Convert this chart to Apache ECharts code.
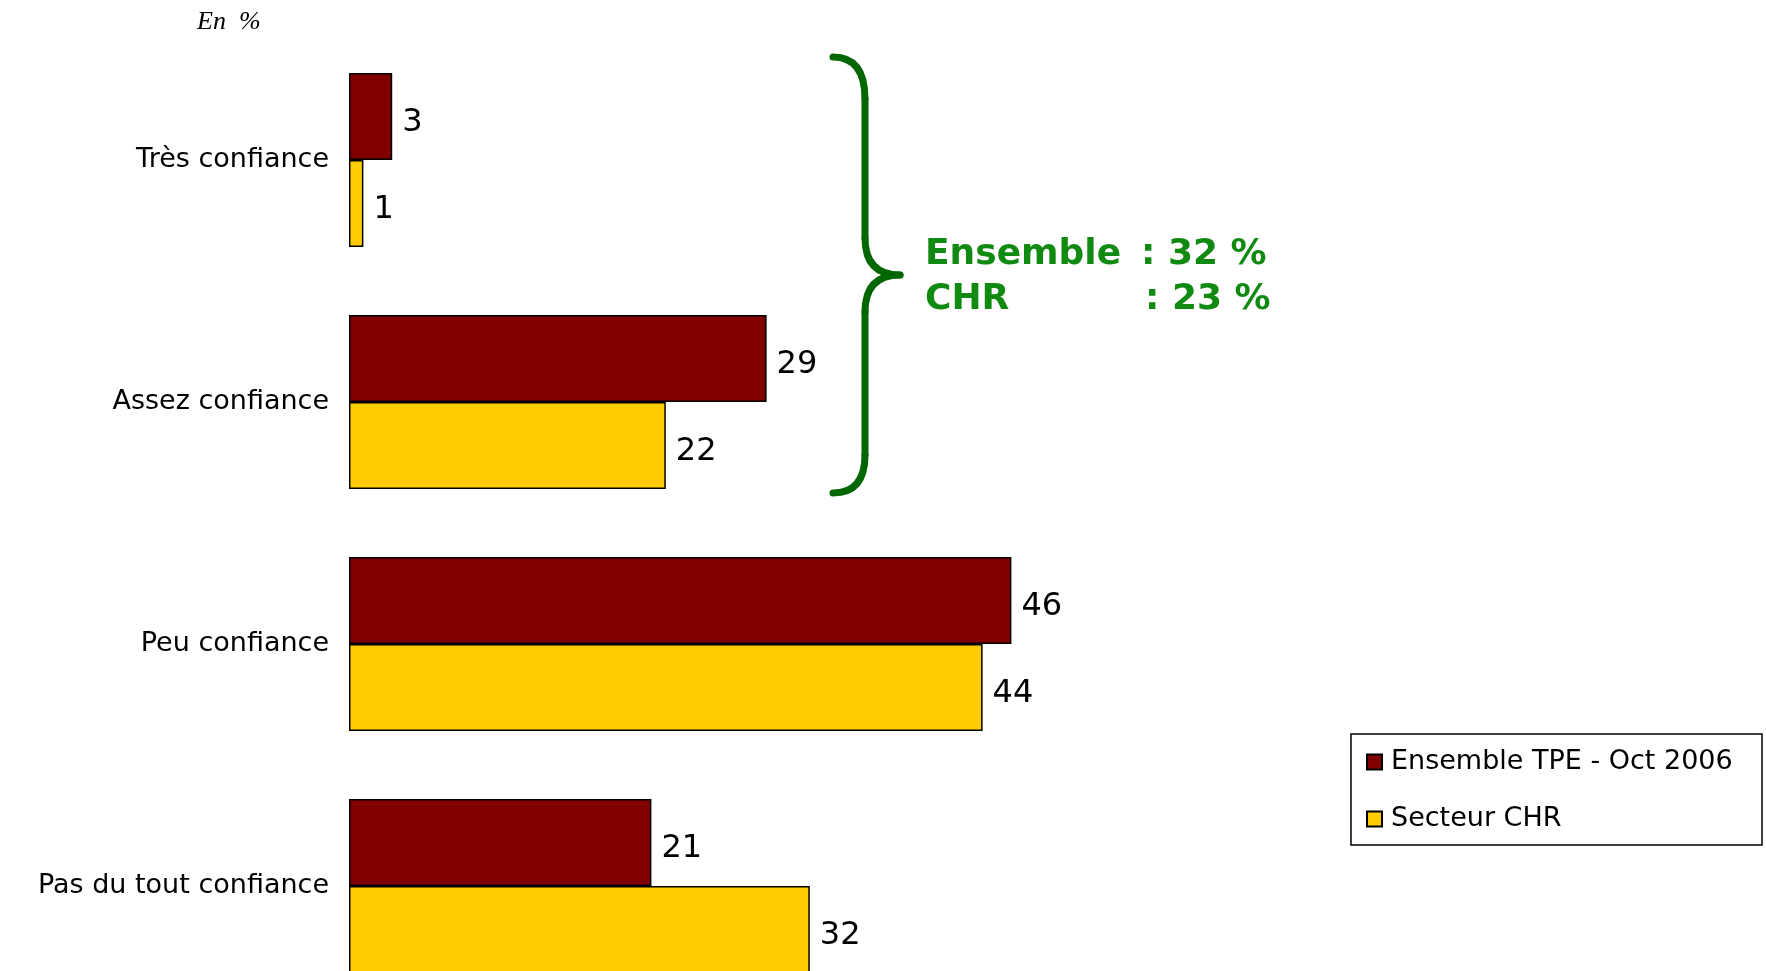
<!DOCTYPE html>
<html>
<head>
<meta charset="utf-8">
<script src="https://cdn.jsdelivr.net/npm/echarts@6/dist/echarts.min.js"></script>
<style>
  html, body { margin: 0; padding: 0; background: #fff; }
  #chart { width: 1766px; height: 971px; }
</style>
</head>
<body>
<div id="chart"></div>
<script>
// categories (top to bottom)
var categories = ["Très confiance", "Assez confiance", "Peu confiance", "Pas du tout confiance"];
// series values, in %
var ensembleTPE = [3, 29, 46, 21];
var secteurCHR = [1, 22, 44, 32];
var seriesNames = ["Ensemble TPE - Oct 2006", "Secteur CHR"];
// totals "confiance" written beside the brace
var totalLabels = ["Ensemble", "CHR"];
var totalValues = [": 32 %", ": 23 %"];

var chart = echarts.init(document.getElementById("chart"));

var braceStyle = { fill: "none", stroke: "#006600", lineWidth: 7, lineCap: "round" };
var greenFont = "bold 36px 'DejaVu Sans'";

var option = {
  backgroundColor: "#ffffff",
  animation: false,
  grid: {
    left: 349,
    top: 39,
    width: 1152,
    height: 968,
    outerBoundsMode: "none"
  },
  xAxis: {
    type: "value",
    min: 0,
    max: 80,
    show: false
  },
  yAxis: {
    type: "category",
    data: categories,
    inverse: true,
    axisLine: { show: false },
    axisTick: { show: false },
    splitLine: { show: false },
    axisLabel: {
      margin: 20,
      color: "#000",
      fontSize: 27,
      fontFamily: "DejaVu Sans",
      padding: [7, 0, 0, 0]
    }
  },
  legend: {
    orient: "vertical",
    left: 1366,
    top: 747,
    padding: 0,
    itemGap: 27,
    itemWidth: 15,
    itemHeight: 15,
    icon: "rect",
    data: seriesNames,
    textStyle: {
      color: "#000",
      fontSize: 27,
      lineHeight: 30,
      fontFamily: "DejaVu Sans",
      padding: [0, 0, 0, 4]
    }
  },
  graphic: [
    {
      type: "text",
      x: 197, y: 22,
      style: {
        text: "En  %",
        fill: "#000",
        font: "italic 26px 'Liberation Serif', serif",
        verticalAlign: "middle"
      }
    },
    {
      type: "rect",
      shape: { x: 1351, y: 734, width: 411, height: 111 },
      style: { fill: "none", stroke: "#000", lineWidth: 1.5 }
    },
    // curly brace
    { type: "bezierCurve", shape: { x1: 833, y1: 57, cpx1: 865, cpy1: 57, x2: 865, y2: 99 }, style: braceStyle },
    { type: "line", shape: { x1: 865, y1: 99, x2: 865, y2: 238 }, style: braceStyle },
    { type: "bezierCurve", shape: { x1: 865, y1: 238, cpx1: 865, cpy1: 275, x2: 900, y2: 275 }, style: braceStyle },
    { type: "bezierCurve", shape: { x1: 900, y1: 275, cpx1: 865, cpy1: 275, x2: 865, y2: 312 }, style: braceStyle },
    { type: "line", shape: { x1: 865, y1: 312, x2: 865, y2: 455 }, style: braceStyle },
    { type: "bezierCurve", shape: { x1: 865, y1: 455, cpx1: 865, cpy1: 493, x2: 833, y2: 493 }, style: braceStyle },
    {
      type: "text", x: 925, y: 255,
      style: { text: totalLabels[0], fill: "#108a10", font: greenFont, verticalAlign: "middle" }
    },
    {
      type: "text", x: 1141, y: 255,
      style: { text: totalValues[0], fill: "#108a10", font: greenFont, verticalAlign: "middle" }
    },
    {
      type: "text", x: 925, y: 300,
      style: { text: totalLabels[1], fill: "#108a10", font: greenFont, verticalAlign: "middle" }
    },
    {
      type: "text", x: 1145, y: 300,
      style: { text: totalValues[1], fill: "#108a10", font: greenFont, verticalAlign: "middle" }
    }
  ],
  series: [
    {
      name: seriesNames[0],
      type: "bar",
      data: ensembleTPE,
      barWidth: 87,
      barGap: "0%",
      itemStyle: { color: "#800000", borderColor: "#000", borderWidth: 1.5 },
      label: {
        show: true,
        position: "right",
        distance: 10,
        offset: [0, 6],
        color: "#000",
        fontSize: 32,
        fontFamily: "DejaVu Sans"
      }
    },
    {
      name: seriesNames[1],
      type: "bar",
      data: secteurCHR,
      barWidth: 87,
      barGap: "0%",
      itemStyle: { color: "#ffcc00", borderColor: "#000", borderWidth: 1.5 },
      label: {
        show: true,
        position: "right",
        distance: 10,
        offset: [0, 6],
        color: "#000",
        fontSize: 32,
        fontFamily: "DejaVu Sans"
      }
    }
  ]
};

chart.setOption(option);
</script>
</body>
</html>
